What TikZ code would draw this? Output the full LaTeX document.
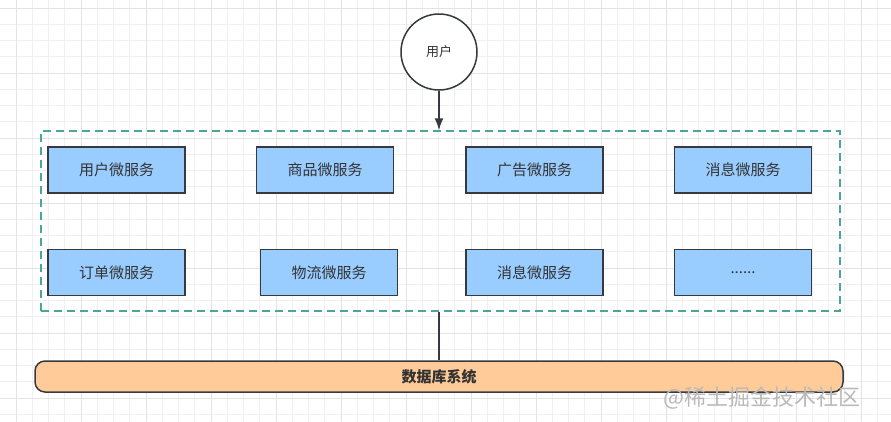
\documentclass[tikz,border=0pt]{standalone}
\usepackage{fontspec}
\setmainfont{Noto Sans CJK SC}
\usetikzlibrary{arrows.meta,positioning}

\definecolor{svcfill}{RGB}{153,204,255}
\definecolor{dbfill}{RGB}{255,204,153}
\definecolor{edgeline}{RGB}{54,57,61}
\definecolor{grpline}{RGB}{77,165,149}
\definecolor{txtcol}{RGB}{51,51,51}

\tikzset{
  svcbox/.style={draw=edgeline,fill=svcfill,line width=1.5pt,minimum width=137pt,minimum height=46pt,
    text=txtcol,font=\fontsize{15}{18}\selectfont,inner sep=0pt},
  userbox/.style={circle,draw=edgeline,fill=white,line width=1.5pt,minimum size=76pt,
    text=txtcol,font=\fontsize{13}{15}\selectfont},
  dbbox/.style={draw=edgeline,fill=dbfill,line width=1.5pt,rounded corners=10pt,minimum width=808pt,
    minimum height=31pt,text=txtcol,font=\bfseries\fontsize{15}{18}\selectfont},
  grpbox/.style={draw=grpline,line width=1.5pt,dash pattern=on 8pt off 5pt,minimum width=799pt,minimum height=180pt}
}

\begin{document}
\begin{tikzpicture}[x=1pt,y=-1pt,>={Latex[length=12pt,width=9pt]}]
\useasboundingbox (0,0) rectangle (891,421);
% background grid
\fill[white] (0,0) rectangle (891,421);
\draw[gray!12,line width=0.6pt,shift={(-0.25,-8.25)}] (0,0) grid[step=16.25pt] (891,437);
\draw[gray!22,line width=0.8pt,shift={(16,8)}] (-16,-8) grid[step=65pt] (875,413);

\node[userbox] (user) at (439,52) {用户};
\node[grpbox] (grp) at (440.5,221) {};

% services, first row
\node[svcbox] (usersvc) at (116.5,170) {用户微服务};
\node[svcbox,right=70pt of usersvc] (goodssvc) {商品微服务};
\node[svcbox,right=71pt of goodssvc] (adsvc) {广告微服务};
\node[svcbox,right=70pt of adsvc] (msgsvc) {消息微服务};
% second row
\node[svcbox,below=55pt of usersvc] (ordersvc) {订单微服务};
\node[svcbox,right=74pt of ordersvc] (logisvc) {物流微服务};
\node[svcbox,right=67pt of logisvc] (msgsvcb) {消息微服务};
\node[svcbox,right=70pt of msgsvcb] (moresvc) {......};

\node[dbbox] (db) at (439,376.5) {数据库系统};

\draw[->,edgeline,line width=1.5pt] (user) -- (user|-grp.north);
\draw[edgeline,line width=1.5pt] (grp.south-|db.north) -- (db.north);

% watermark
\node[text=gray!55,font=\fontsize{22}{24}\selectfont] (mark) at (762,398) {@稀土掘金技术社区};
\end{tikzpicture}
\end{document}
